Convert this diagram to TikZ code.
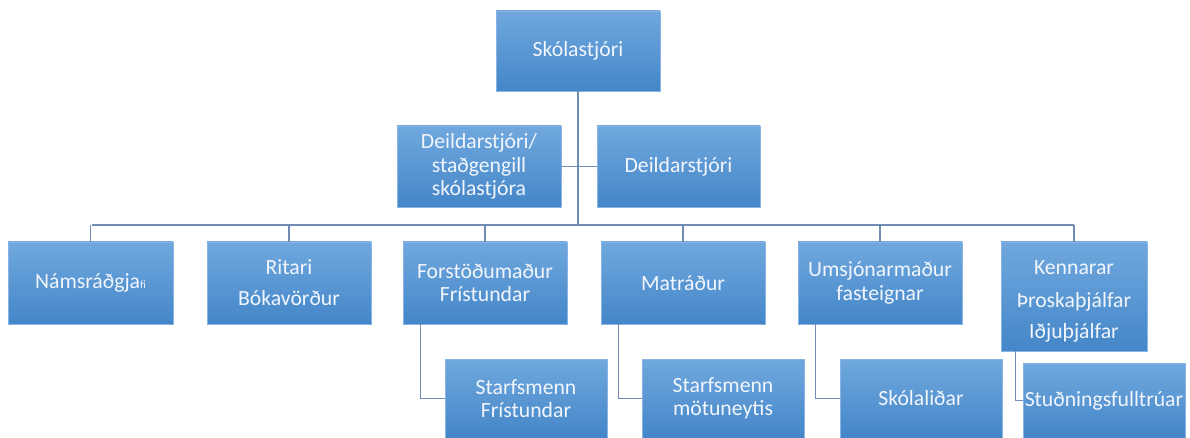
\documentclass[tikz,border=0pt]{standalone}
\usepackage{fontspec}
\setmainfont{Carlito}
\definecolor{boxtop}{RGB}{112,168,222}
\definecolor{boxbot}{RGB}{68,134,200}
\definecolor{boxline}{RGB}{135,180,228}
\definecolor{conn}{RGB}{112,140,180}
\definecolor{txt}{RGB}{242,246,252}
\tikzset{
  orgbox/.style={rectangle, draw=boxline, line width=0.6pt, top color=boxtop, bottom color=boxbot,
    text=txt, font=\fontsize{21.7}{23.5}\selectfont, align=center, inner sep=0pt},
  conline/.style={draw=conn, line width=1.5pt}
}
\begin{document}
\begin{tikzpicture}[x=1pt,y=-1pt]
\useasboundingbox (0,0) rectangle (1190,438);
% level 0
\node[orgbox, minimum width=164pt, minimum height=80pt] (sk) at (578,51) {Skólastjóri};
% level 1
\node[orgbox, minimum width=164pt, minimum height=81pt] (d1) at (479,166.5) {Deildarstjóri/\\staðgengill\\skólastjóra};
\node[orgbox, minimum width=163pt, minimum height=81pt] (d2) at (678.5,166.5) {Deildarstjóri};
% level 2
\node[orgbox, minimum width=165pt, minimum height=82pt] (n1) at (90.5,283) {Námsráðgja{\fontsize{11}{11}\selectfont fi}};
\node[orgbox, minimum width=164pt, minimum height=82pt] (n2) at (289,283) {Ritari\\[7.5pt]Bókavörður};
\node[orgbox, minimum width=164pt, minimum height=82pt] (n3) at (485,283) {Forstöðumaður\\Frístundar};
\node[orgbox, minimum width=164pt, minimum height=82pt] (n4) at (683,283) {Matráður};
\node[orgbox, minimum width=164pt, minimum height=82pt] (n5) at (880,283) {Umsjónarmaður\\fasteignar};
\node[orgbox, minimum width=146pt, minimum height=109pt] (n6) at (1074,296.5)
  {\raisebox{-5pt}[\height][\depth]{\begin{tabular}{@{}c@{}}Kennarar\\[9.5pt]Þroskaþjálfar\\[7.5pt]Iðjuþjálfar\end{tabular}}};
% level 3
\node[orgbox, minimum width=162pt, minimum height=79pt] (m1) at (526,398.5) {Starfsmenn\\Frístundar};
\node[orgbox, minimum width=162pt, minimum height=79pt] (m2) at (723,398.5) {Starfsmenn\\mötuneytis};
\node[orgbox, minimum width=162pt, minimum height=79pt] (m3) at (921,398.5) {Skólaliðar};
\node[orgbox, minimum width=162pt, minimum height=75pt] (m4) at (1104,400.5) {Stuðningsfulltrúar};
% connectors
\coordinate (busL) at (92,225);
\coordinate (busR) at (1074,225);
\draw[conline] (sk.south) -- (sk.south |- busL);
\draw[conline] (d1.east) -- (d2.west);
\draw[conline] (busL) -- (busR);
\foreach \n in {n1,n2,n3,n4,n5,n6}{
  \draw[conline] (\n.north) -- (\n.north |- busL);
}
\draw[conline] ([xshift=18pt]n3.south west) |- (m1.west);
\draw[conline] ([xshift=18pt]n4.south west) |- (m2.west);
\draw[conline] ([xshift=18pt]n5.south west) |- (m3.west);
\draw[conline] ([xshift=15pt]n6.south west) |- (m4.west);
\end{tikzpicture}
\end{document}
